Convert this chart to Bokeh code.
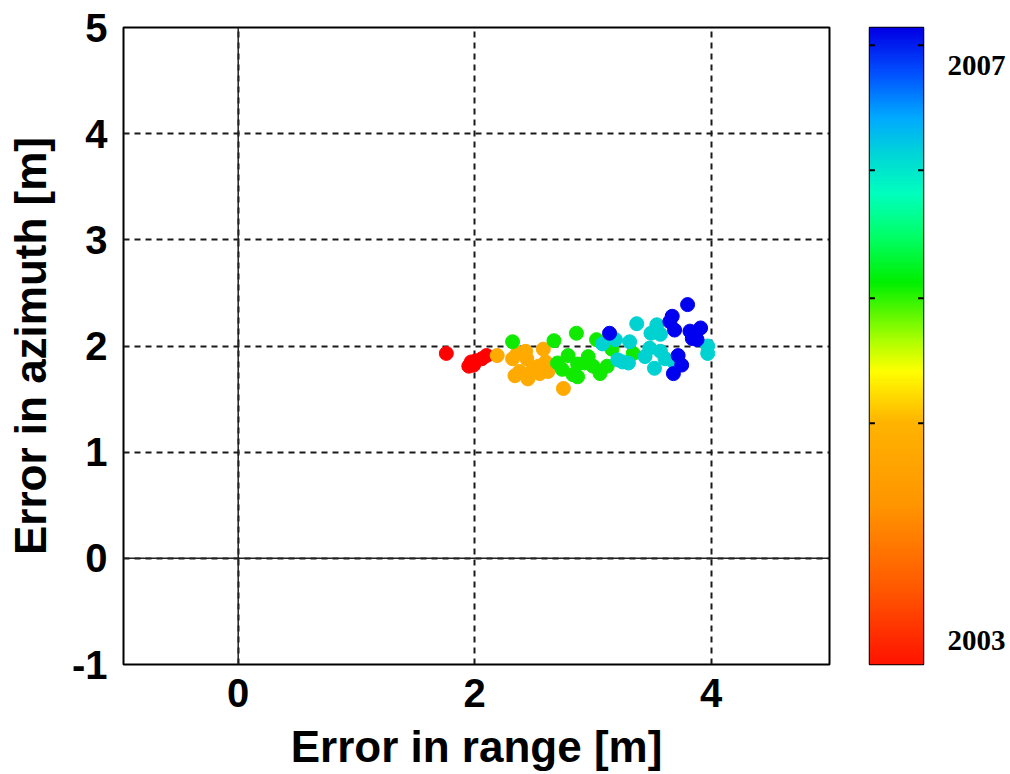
import numpy as np
from bokeh.plotting import figure
from bokeh.layouts import row
from bokeh.models import FixedTicker, Span
from bokeh.embed import file_html
from bokeh.resources import INLINE

# ---------------- data ----------------
red_x = [1.76, 1.95, 1.97, 2.01, 2.06, 2.10, 1.99]
red_y = [1.93, 1.81, 1.85, 1.86, 1.88, 1.91, 1.82]

orange_x = [2.19, 2.32, 2.36, 2.43, 2.44, 2.38, 2.34, 2.45, 2.49, 2.54, 2.58, 2.60, 2.62, 2.55, 2.75]
orange_y = [1.91, 1.88, 1.93, 1.95, 1.88, 1.76, 1.72, 1.69, 1.78, 1.81, 1.97, 1.85, 1.76, 1.74, 1.60]

green_x = [2.32, 2.67, 2.86, 3.03, 2.70, 2.74, 2.79, 2.83, 2.87, 2.96, 3.00, 3.06, 3.12, 3.16, 3.34, 2.87, 2.93]
green_y = [2.04, 2.05, 2.12, 2.06, 1.84, 1.78, 1.91, 1.73, 1.83, 1.90, 1.81, 1.74, 1.81, 1.97, 1.93, 1.71, 1.84]

cyan_x = [3.37, 3.54, 3.49, 3.57, 3.08, 3.19, 3.31, 3.25, 3.30, 3.44, 3.48, 3.57, 3.61, 3.52, 3.69, 3.97, 3.97, 3.21]
cyan_y = [2.21, 2.20, 2.12, 2.11, 2.02, 2.06, 2.04, 1.85, 1.84, 1.90, 1.98, 1.95, 1.88, 1.79, 1.84, 2.00, 1.93, 1.87]

blue_x = [3.80, 3.67, 3.69, 3.82, 3.91, 3.88, 3.14, 3.72, 3.75, 3.68, 3.84, 3.65]
blue_y = [2.39, 2.28, 2.15, 2.14, 2.17, 2.06, 2.12, 1.91, 1.82, 1.74, 2.07, 2.23]

groups = [
    (red_x, red_y, "#ff0000"),
    (orange_x, orange_y, "#ffaa00"),
    (green_x, green_y, "#10ea00"),
    (cyan_x, cyan_y, "#00d2d2"),
    (blue_x, blue_y, "#0000f0"),
]

x_ticks = [0, 2, 4]
y_ticks = [-1, 0, 1, 2, 3, 4, 5]

cb_labels = [2003, 2007]
cb_ticks = [2004.51, 2005.38, 2006.27, 2007.14]
cb_range = (2002.833, 2007.263)
# colorbar colour anchors (fraction from bottom, r, g, b)
cb_anchor_pos = [0.0, 0.12, 0.25, 0.38, 0.46, 0.51, 0.60, 0.67, 0.74, 0.80, 0.86, 0.93, 1.0]
cb_anchor_r = [255, 255, 255, 255, 255, 170, 0, 0, 0, 0, 0, 0, 0]
cb_anchor_g = [20, 90, 150, 180, 255, 255, 240, 255, 255, 215, 170, 80, 0]
cb_anchor_b = [0, 0, 0, 0, 0, 0, 0, 100, 190, 215, 255, 255, 230]

H = 774

# ---------------- main figure ----------------
p = figure(width=858, height=H, x_range=(-0.97, 5), y_range=(-1, 5),
           output_backend="svg", toolbar_location=None,
           min_border_left=123, min_border_right=29,
           min_border_top=27, min_border_bottom=H - 664)
p.background_fill_color = "white"
p.border_fill_color = "white"
p.outline_line_color = "black"
p.outline_line_width = 2

for gx, gy, col in groups:
    p.scatter(gx, gy, size=14, fill_color=col, line_color=col, marker="circle")

p.xaxis.ticker = FixedTicker(ticks=x_ticks)
p.yaxis.ticker = FixedTicker(ticks=y_ticks)
p.yaxis.major_label_overrides = {t: str(t) for t in y_ticks}
for ax in (p.xaxis, p.yaxis):
    ax.axis_line_color = None
    ax.major_tick_line_color = None
    ax.minor_tick_line_color = None
    ax.major_label_text_font = "Liberation Sans"
    ax.major_label_text_font_style = "bold"
    ax.major_label_text_font_size = "40px"
    ax.major_label_text_color = "black"
    ax.axis_label_text_font = "Liberation Sans"
    ax.axis_label_text_font_style = "bold"
    ax.axis_label_text_font_size = "44px"
    ax.axis_label_text_color = "black"
p.xaxis.axis_label = "Error in range [m]"
p.yaxis.axis_label = "Error in azimuth [m]"
p.xaxis.major_label_standoff = 8
p.yaxis.major_label_standoff = 10
p.xaxis.axis_label_standoff = 12
p.yaxis.axis_label_standoff = 14

for g in (p.xgrid, p.ygrid):
    g.grid_line_color = "#1a1a1a"
    g.grid_line_width = 2
    g.grid_line_dash = "6 5"
p.add_layout(Span(location=0, dimension="height", line_color="#222222", line_width=1.5))
p.add_layout(Span(location=0, dimension="width", line_color="#222222", line_width=1.5))

# ---------------- colorbar figure ----------------
cb = figure(width=152, height=H, x_range=(0, 1), y_range=cb_range,
            output_backend="svg", toolbar_location=None,
            x_axis_location=None, y_axis_location="right",
            min_border_left=11, min_border_right=87,
            min_border_top=26, min_border_bottom=H - 665)
cb.outline_line_color = "black"
cb.outline_line_width = 1.5
cb.xgrid.visible = False
cb.ygrid.visible = False

n = 256
f = np.linspace(0, 1, n)
r = np.interp(f, cb_anchor_pos, cb_anchor_r).astype(np.uint32)
g_ = np.interp(f, cb_anchor_pos, cb_anchor_g).astype(np.uint32)
b = np.interp(f, cb_anchor_pos, cb_anchor_b).astype(np.uint32)
rgba = (255 << 24) | (b << 16) | (g_ << 8) | r
img = np.repeat(rgba.reshape(n, 1), 2, axis=1).astype(np.uint32)
cb.image_rgba(image=[img], x=0, y=cb_range[0], dw=1, dh=cb_range[1] - cb_range[0])

cb.segment(x0=[0] * len(cb_ticks), x1=[0.1] * len(cb_ticks), y0=cb_ticks, y1=cb_ticks,
           line_color="black", line_width=2)
cb.segment(x0=[0.9] * len(cb_ticks), x1=[1] * len(cb_ticks), y0=cb_ticks, y1=cb_ticks,
           line_color="black", line_width=2)

cb.yaxis.ticker = FixedTicker(ticks=cb_labels)
cb.yaxis.axis_line_color = None
cb.yaxis.major_tick_line_color = None
cb.yaxis.minor_tick_line_color = None
cb.yaxis.major_label_standoff = 18
cb.yaxis.major_label_text_font = "Liberation Serif"
cb.yaxis.major_label_text_font_style = "bold"
cb.yaxis.major_label_text_font_size = "29px"
cb.yaxis.major_label_text_color = "black"

layout = row(p, cb, spacing=0)
open("out.html", "w").write(file_html(layout, INLINE))
